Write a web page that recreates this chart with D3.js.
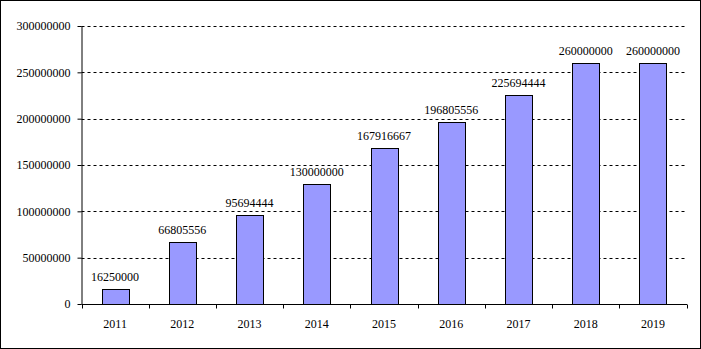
<!DOCTYPE html>
<html><head><meta charset="utf-8">
<script src="https://cdn.jsdelivr.net/npm/d3@7"></script>
<style>body{margin:0;background:#fff}svg{display:block}text{font-family:"Liberation Serif","Times New Roman",serif;font-size:12px;fill:#000}</style>
</head><body><svg id="c" width="701" height="349"></svg>
<script>
const categories = ["2011","2012","2013","2014","2015","2016","2017","2018","2019"];
const values = [16250000,66805556,95694444,130000000,167916667,196805556,225694444,260000000,260000000];
const yTicks = [0,50000000,100000000,150000000,200000000,250000000,300000000];

const svg = d3.select("#c");
const W = 701, H = 349;
const m = {left:81.5, right:686.5, top:26, bottom:304};
svg.append("rect").attr("x",0.5).attr("y",0.5).attr("width",W-1).attr("height",H-1)
  .attr("fill","#fff").attr("stroke","#000");

const x = d3.scaleBand().domain(categories).range([m.left,m.right]).paddingInner(0.6).paddingOuter(0.3);
const xb = d3.scaleBand().domain(categories).range([m.left,m.right]);
const y = d3.scaleLinear().domain([0,300000000]).range([m.bottom,m.top]);

// gridlines
svg.append("g").selectAll("line").data(yTicks.filter(d=>d>0)).join("line")
  .attr("x1",m.left).attr("x2",m.right)
  .attr("y1",d=>Math.round(y(d))+0.5).attr("y2",d=>Math.round(y(d))+0.5)
  .attr("stroke","#000").attr("stroke-dasharray","3,3");

// bars
svg.append("g").selectAll("rect").data(values).join("rect")
  .attr("x",(d,i)=>Math.round(x(categories[i]))+0.5)
  .attr("width",Math.round(x.bandwidth()))
  .attr("y",d=>Math.round(y(d))+0.5)
  .attr("height",d=>Math.round(y(0))-Math.round(y(d)))
  .attr("fill","#9999FF").attr("stroke","#000");

// value labels
svg.append("g").selectAll("text").data(values).join("text")
  .attr("x",(d,i)=>xb(categories[i])+xb.bandwidth()/2)
  .attr("y",d=>y(d)-8)
  .attr("text-anchor","middle").text(d=>d3.format("d")(d));

// y axis
const ya = svg.append("g").attr("transform",`translate(${m.left},0)`)
  .call(d3.axisLeft(y).tickValues(yTicks).tickFormat(d3.format("d")).tickSize(4).tickPadding(7));
ya.select(".domain").attr("stroke","#000").attr("d",`M0.5,${m.top}V${m.bottom+0.5}`);
ya.selectAll(".tick line").attr("stroke","#000");
ya.selectAll("text").style("font-family","Liberation Serif").style("font-size","12px").attr("fill","#000");

// x axis
const xa = svg.append("g").attr("transform",`translate(0,${m.bottom+0.5})`);
xa.append("line").attr("x1",m.left).attr("x2",m.right+0.5).attr("stroke","#000");
const tickPos = categories.map(c=>xb(c)).concat([m.right]);
xa.selectAll(".t").data(tickPos).join("line").attr("class","t")
  .attr("x1",d=>Math.round(d)+0.5).attr("x2",d=>Math.round(d)+0.5).attr("y1",0).attr("y2",4).attr("stroke","#000");
xa.selectAll("text").data(categories).join("text")
  .attr("x",d=>xb(d)+xb.bandwidth()/2).attr("y",23)
  .attr("text-anchor","middle").text(d=>d);
</script></body></html>
